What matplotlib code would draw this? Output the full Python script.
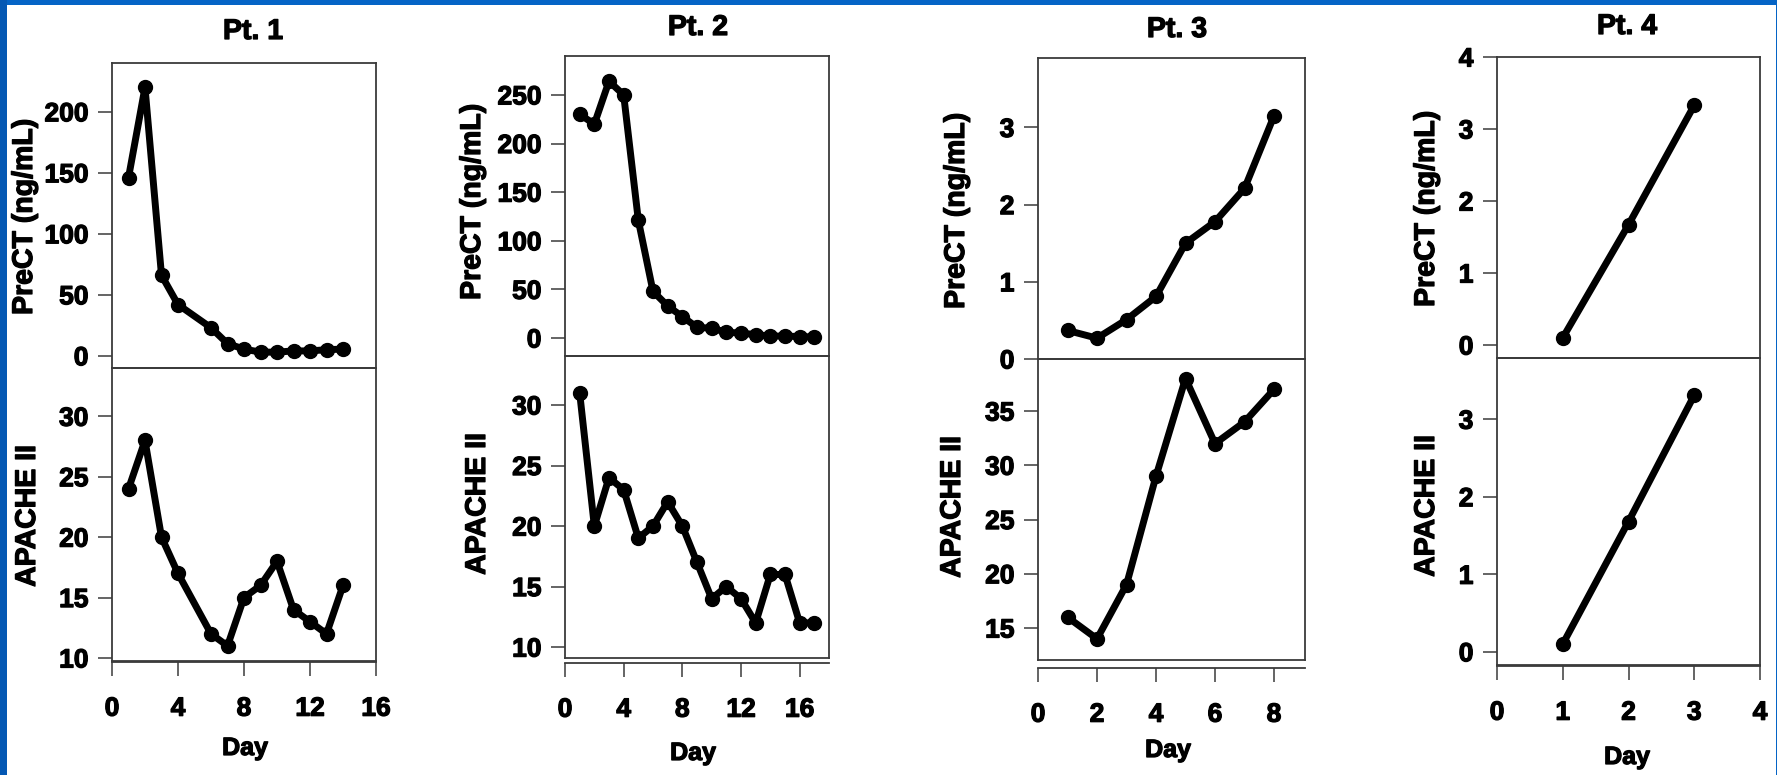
import matplotlib
matplotlib.use("Agg")
import matplotlib.pyplot as plt
from matplotlib.patches import Rectangle
import matplotlib.patheffects as pe

plt.rcParams['font.family'] = ['Liberation Sans', 'DejaVu Sans']
plt.rcParams['font.weight'] = 'bold'

W, H = 1777, 775

# ---------------- data ----------------
titles = ["Pt. 1", "Pt. 2", "Pt. 3", "Pt. 4"]
top_label = "PreCT (ng/mL)"
bottom_label = "APACHE II"
x_label = "Day"

pt1_days = [1, 2, 3, 4, 6, 7, 8, 9, 10, 11, 12, 13, 14]
pt1_prect = [146, 220, 66, 42, 23, 10, 5.5, 3, 3, 4, 4, 5, 5.5]
pt1_apache = [24, 28, 20, 17, 12, 11, 15, 16, 18, 14, 13, 12, 16]

pt2_days = [1, 2, 3, 4, 5, 6, 7, 8, 9, 10, 11, 12, 13, 14, 15, 16, 17]
pt2_prect = [230, 220, 264, 250, 121, 48, 33, 22, 11, 10, 6, 5, 3.5, 2, 2, 1.5, 1]
pt2_apache = [31, 20, 24, 23, 19, 20, 22, 20, 17, 14, 15, 14, 12, 16, 16, 12, 12]

pt3_days = [1, 2, 3, 4, 5, 6, 7, 8]
pt3_prect = [0.37, 0.27, 0.51, 0.81, 1.5, 1.78, 2.21, 3.15]
pt3_apache = [16, 14, 19, 29, 38, 32, 34, 37]

pt4_days = [1, 2, 3]
pt4_prect = [0.1, 1.67, 3.33]
pt4_apache = [0.1, 1.68, 3.31]

pt1_xticks = [0, 4, 8, 12, 16]
pt2_xticks = [0, 4, 8, 12, 16]
pt3_xticks = [0, 2, 4, 6, 8]
pt4_xticks = [0, 1, 2, 3, 4]

pt1_top_yticks = [0, 50, 100, 150, 200]
pt2_top_yticks = [0, 50, 100, 150, 200, 250]
pt3_top_yticks = [0, 1, 2, 3]
pt4_top_yticks = [0, 1, 2, 3, 4]

pt1_bot_yticks = [10, 15, 20, 25, 30]
pt2_bot_yticks = [10, 15, 20, 25, 30]
pt3_bot_yticks = [15, 20, 25, 30, 35]
pt4_bot_yticks = [0, 1, 2, 3]

# ---------------- layout (pixels) ----------------
panels = [
    dict(days=pt1_days, top=pt1_prect, bot=pt1_apache, xt=pt1_xticks,
         tyt=pt1_top_yticks, byt=pt1_bot_yticks,
         x0=112, x1=376, ty0=63, ty1=368, by1=661, off=1,
         xlim=(0, 16), tylim=(-10, 240), bylim=(9.75, 34.0),
         title=(253, 32), tl=(25, 217), bl=(28, 516), day=(245, 748)),
    dict(days=pt2_days, top=pt2_prect, bot=pt2_apache, xt=pt2_xticks,
         tyt=pt2_top_yticks, byt=pt2_bot_yticks,
         x0=565, x1=829, ty0=56, ty1=356, by1=658, off=5,
         xlim=(0, 18), tylim=(-18.5, 290), bylim=(9.1, 34.05),
         title=(698, 28), tl=(473, 202), bl=(478, 504), day=(693, 753)),
    dict(days=pt3_days, top=pt3_prect, bot=pt3_apache, xt=pt3_xticks,
         tyt=pt3_top_yticks, byt=pt3_bot_yticks,
         x0=1038, x1=1305, ty0=58, ty1=359, by1=660, off=8,
         xlim=(0, 9.05), tylim=(0, 3.9), bylim=(12.05, 39.8),
         title=(1177, 30), tl=(957, 211), bl=(953, 507), day=(1168, 750)),
    dict(days=pt4_days, top=pt4_prect, bot=pt4_apache, xt=pt4_xticks,
         tyt=pt4_top_yticks, byt=pt4_bot_yticks,
         x0=1497, x1=1760, ty0=57, ty1=358, by1=665, off=1,
         xlim=(0, 4), tylim=(-0.18, 4.0), bylim=(-0.17, 3.79),
         title=(1627, 27), tl=(1427, 209), bl=(1427, 506), day=(1627, 757)),
]

fig = plt.figure(figsize=(W / 100, H / 100), dpi=100)
fig.patch.set_facecolor('white')

def rect(x0, y0, x1, y1):
    return [x0 / W, 1 - y1 / H, (x1 - x0) / W, (y1 - y0) / H]

def fx(x):
    return x / W

def fy(y):
    return 1 - y / H

heavy = [pe.withStroke(linewidth=0.9, foreground='black')]
spine_col = '#3a3a3a'
line_kw = dict(color='black', lw=5, marker='o', markersize=10,
               solid_joinstyle='round', solid_capstyle='round', clip_on=False, zorder=3)

for i, p in enumerate(panels):
    axt = fig.add_axes(rect(p['x0'], p['ty0'], p['x1'], p['ty1']))
    axb = fig.add_axes(rect(p['x0'], p['ty1'], p['x1'], p['by1']))
    for ax in (axt, axb):
        ax.set_facecolor('none')
        ax.set_xlim(*p['xlim'])
        for s in ax.spines.values():
            s.set_color(spine_col)
            s.set_linewidth(1.3)
        ax.tick_params(axis='y', direction='out', length=10, width=1.1,
                       color=spine_col, pad=7, labelsize=19, right=False)
        ax.tick_params(axis='x', direction='out', length=10, width=1.1,
                       color=spine_col, pad=15, labelsize=19, top=False)
    axt.plot(p['days'], p['top'], **line_kw)
    axt.set_ylim(*p['tylim'])
    axt.set_yticks(p['tyt'])
    axt.set_xticks([])

    axb.plot(p['days'], p['bot'], **line_kw)
    axb.set_ylim(*p['bylim'])
    axb.set_yticks(p['byt'])
    axb.set_xticks(p['xt'])
    axb.spines['bottom'].set_position(('outward', p['off'] * 0.72))
    axb.plot([0, 1], [0, 0], transform=axb.transAxes, color=spine_col,
             lw=1.3, clip_on=False)

    for lab in axt.get_yticklabels() + axb.get_yticklabels() + axb.get_xticklabels():
        lab.set_fontweight('bold')
        lab.set_path_effects(heavy)

    fig.text(fx(p['title'][0]), fy(p['title'][1]), titles[i],
             ha='center', va='center', fontsize=20.5, fontweight='bold',
             path_effects=heavy)
    fig.text(fx(p['tl'][0]), fy(p['tl'][1]), top_label, rotation=90,
             ha='center', va='center', fontsize=20.5, fontweight='bold',
             path_effects=heavy)
    fig.text(fx(p['bl'][0]), fy(p['bl'][1]), bottom_label, rotation=90,
             ha='center', va='center', fontsize=20.5, fontweight='bold',
             path_effects=heavy)
    fig.text(fx(p['day'][0]), fy(p['day'][1]), x_label,
             ha='center', va='center', fontsize=18, fontweight='bold',
             path_effects=heavy)

# blue frame of the slide
blue = '#0564c6'
fig.add_artist(Rectangle((0, 1 - 5 / H), 1, 5 / H, transform=fig.transFigure,
                         facecolor=blue, edgecolor='none', zorder=10))
fig.add_artist(Rectangle((0, 0), 7 / W, 1, transform=fig.transFigure,
                         facecolor='#0458b4', edgecolor='none', zorder=10))
fig.add_artist(Rectangle((1 - 1.5 / W, 0), 1.5 / W, 1, transform=fig.transFigure,
                         facecolor=blue, edgecolor='none', zorder=10))

fig.savefig('out.png', dpi=100, facecolor=fig.get_facecolor())
